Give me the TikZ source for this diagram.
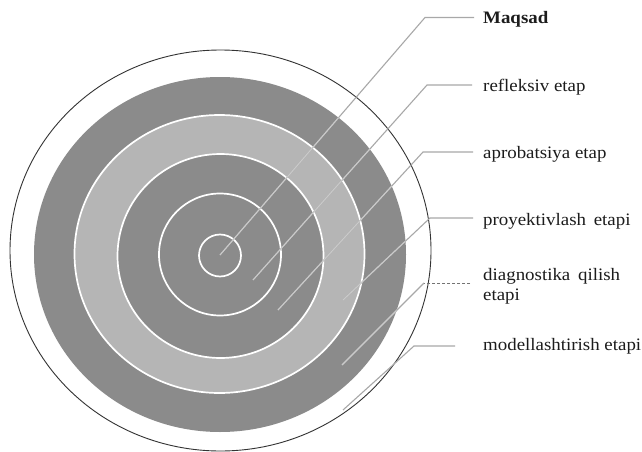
\documentclass[tikz,border=0pt]{standalone}
\usepackage{fontspec}
\setmainfont{Liberation Serif}[FakeStretch=1.08]
\definecolor{darkfill}{HTML}{8B8B8B}
\definecolor{lightfill}{HTML}{B5B5B5}
\definecolor{leadgray}{HTML}{A8A8A8}
\definecolor{leadlight}{HTML}{CACACA}
\definecolor{txt}{HTML}{1C1C1C}
\begin{document}
\begin{tikzpicture}[x=1pt,y=-1pt,
  lbl/.style={anchor=base west,inner sep=0pt,text=txt,font=\fontsize{17.5}{20}\selectfont},
  leader/.style={draw=leadgray,line width=1.1pt},
  leaderin/.style={draw=leadlight,line width=1.1pt},
  ringline/.style={draw=white,line width=1.7pt}]
\useasboundingbox[fill=white] (0,0) rectangle (642,452);
% outer thin ring
\draw[line width=0.9pt,draw=black!80] (220.5,250.5) ellipse [x radius=210.5pt, y radius=200.5pt];
% target
\fill[darkfill] (220,254.5) ellipse [x radius=186pt, y radius=177.5pt];
\filldraw[fill=lightfill,ringline] (219.5,254) ellipse [x radius=145pt, y radius=139pt];
\filldraw[fill=darkfill,ringline] (220.5,256) ellipse [x radius=103pt, y radius=102pt];
\draw[ringline] (220,254.5) circle [radius=61pt];
\draw[ringline] (220,255.5) circle [radius=21pt];
% labels
\node[lbl] (lM) at (483,24) {\textbf{Maqsad}};
\node[lbl] (lR) at (483,91.5) {refleksiv etap};
\node[lbl] (lA) at (483,158) {aprobatsiya etap};
\node[lbl] (lP) at (483,225) {proyektivlash\hspace{3pt} etapi};
\node[lbl,text width=160pt,align=left] (lD) at (483,280) {diagnostika\hspace{2pt} qilish\\etapi};
\node[lbl] (lMo) at (483,350) {modellashtirish etapi};
% leader coordinates
\coordinate (hM) at (474,17.5);  \coordinate (kM) at (425,17.5);  \coordinate (eM) at (220,255);
\coordinate (hR) at (472,85);    \coordinate (kR) at (427,85);    \coordinate (eR) at (253,280);
\coordinate (hA) at (473,152);   \coordinate (kA) at (423,152);   \coordinate (eA) at (278,310);
\coordinate (hP) at (473,218);   \coordinate (kP) at (430,218);   \coordinate (eP) at (343,300);
\coordinate (hD) at (470,283);   \coordinate (kD) at (424,283);   \coordinate (eD) at (342,365);
\coordinate (hMo) at (455,346);  \coordinate (kMo) at (414,346);  \coordinate (eMo) at (343,410);
\draw[leader] (hM) -- (kM) -- (eM);
\draw[leader] (hR) -- (kR) -- (eR);
\draw[leader] (hA) -- (kA) -- (eA);
\draw[leader] (hP) -- (kP) -- (eP);
\draw[draw=black!55,line width=0.8pt,densely dashed] (hD) -- (kD);
\draw[leader] (kD) -- (eD);
\draw[leader] (hMo) -- (kMo) -- (eMo);
\begin{scope}
  \clip (220,254.5) ellipse [x radius=186pt, y radius=177.5pt];
  \draw[leaderin] (kM) -- (eM);
  \draw[leaderin] (kR) -- (eR);
  \draw[leaderin] (kA) -- (eA);
  \draw[leaderin] (kP) -- (eP);
  \draw[leaderin] (kD) -- (eD);
\end{scope}
\end{tikzpicture}
\end{document}
